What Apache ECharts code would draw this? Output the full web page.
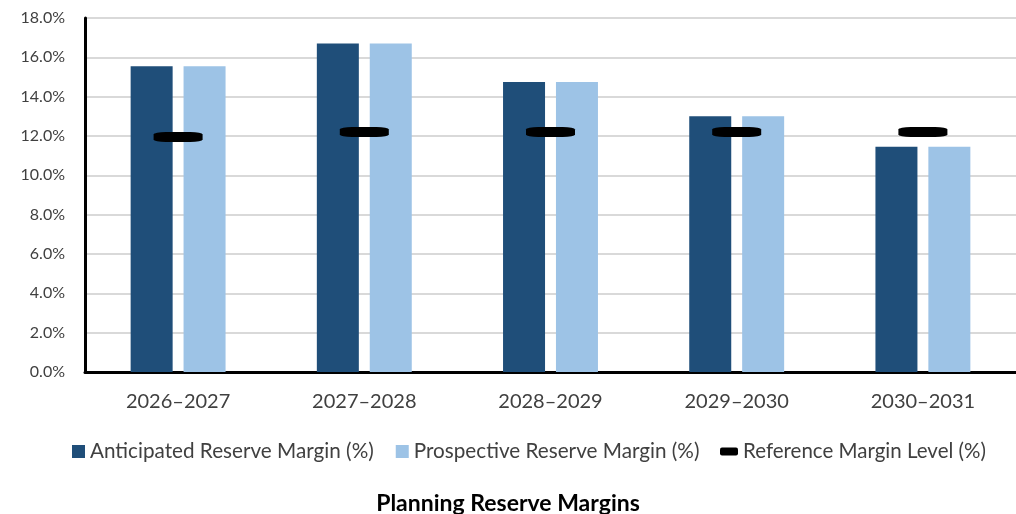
<!DOCTYPE html>
<html>
<head>
<meta charset="utf-8">
<script src="https://cdn.jsdelivr.net/npm/echarts@6/dist/echarts.min.js"></script>
<style>
html,body{margin:0;padding:0;background:#fff;}
#c{width:1016px;height:514px;}
</style>
</head>
<body>
<div id="c"></div>
<script>
const categories = ['2026\u20132027','2027\u20132028','2028\u20132029','2029\u20132030','2030\u20132031'];
const anticipated = [15.55, 16.7, 14.75, 13.0, 11.45];
const prospective = [15.55, 16.7, 14.75, 13.0, 11.45];
const reference = [11.95, 12.2, 12.2, 12.2, 12.2];
const yTicks = {min: 0, max: 18, interval: 2};

const FONT = 'Lato';
const chart = echarts.init(document.getElementById('c'), null, {renderer: 'canvas'});
chart.setOption({
  animation: false,
  backgroundColor: '#fff',
  textStyle: {fontFamily: FONT},
  title: {
    text: 'Planning Reserve Margins',
    left: 'center', top: 487,
    textStyle: {fontFamily: FONT, fontSize: 23, fontWeight: 'bold', color: '#000'}
  },
  legend: [{
    left: 67, top: 436,
    itemWidth: 13, itemHeight: 13, itemGap: 22, itemTextGap: 6,
    icon: 'rect',
    textStyle: {fontFamily: FONT, fontSize: 20.7, color: '#404040'},
    data: ['Anticipated Reserve Margin (%)', 'Prospective Reserve Margin (%)']
  }, {
    left: 715, top: 436,
    itemWidth: 18, itemHeight: 8, itemTextGap: 2,
    icon: 'roundRect',
    itemStyle: {opacity: 1},
    textStyle: {fontFamily: FONT, fontSize: 20.5, color: '#404040'},
    data: ['Reference Margin Level (%)']
  }],
  grid: {left: 85, right: -9, top: 18, bottom: 142, containLabel: false},
  xAxis: {
    type: 'category',
    data: categories,
    axisLine: {lineStyle: {color: '#000', width: 3}},
    axisTick: {show: false},
    axisLabel: {fontFamily: FONT, fontSize: 20, color: '#404040', margin: 20}
  },
  yAxis: {
    type: 'value',
    min: yTicks.min, max: yTicks.max, interval: yTicks.interval,
    axisLine: {show: true, lineStyle: {color: '#000', width: 3}},
    axisTick: {show: false},
    splitLine: {lineStyle: {color: '#d9d9d9', width: 2}},
    axisLabel: {fontFamily: FONT, fontSize: 16, color: '#404040', margin: 20,
      formatter: v => v.toFixed(1) + '%'}
  },
  series: [{
    name: 'Anticipated Reserve Margin (%)',
    type: 'bar', data: anticipated,
    barWidth: 42, barGap: '26%',
    itemStyle: {color: '#1F4E79'}
  }, {
    name: 'Prospective Reserve Margin (%)',
    type: 'bar', data: prospective,
    barWidth: 42, barGap: '26%',
    itemStyle: {color: '#9DC3E6'}
  }, {
    name: 'Reference Margin Level (%)',
    type: 'scatter', data: reference,
    symbol: 'roundRect', symbolSize: [49, 10],
    itemStyle: {color: '#000', opacity: 1},
    z: 5
  }]
});
</script>
</body>
</html>
